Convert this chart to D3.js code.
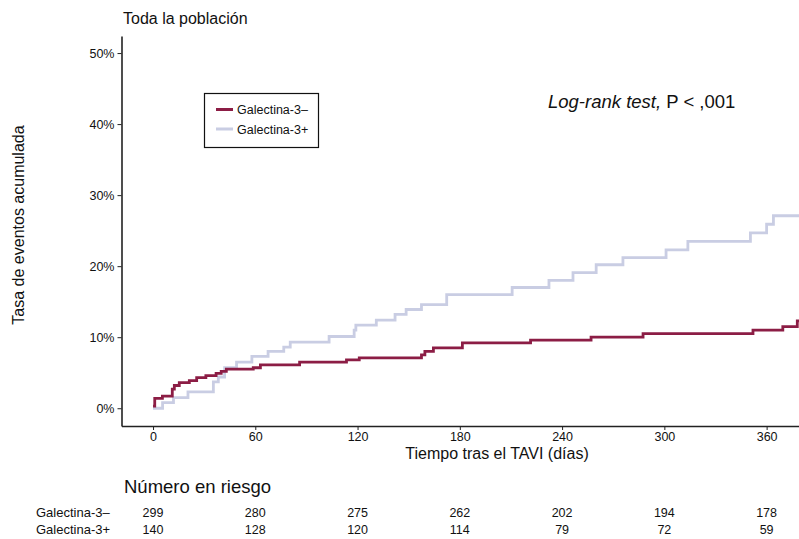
<!DOCTYPE html>
<html>
<head>
<meta charset="utf-8">
<script src="https://cdn.jsdelivr.net/npm/d3@7"></script>
<style>
  body { margin: 0; background: #fff; }
  text { font-family: "Liberation Sans", Arial, sans-serif; fill: #111; }
</style>
</head>
<body>
<div id="chart"></div>
<script>
// cumulative event rate (%), [day, value] at each step
const galNeg = [[0, 0.3], [1, 1.4], [5.5, 1.7], [11.3, 2.7], [12.5, 3.2], [15.4, 3.6], [21.3, 3.9],
  [25.6, 4.3], [31, 4.6], [37, 4.9], [40, 5.2], [43, 5.5], [58.8, 5.7], [63, 6.1], [86, 6.5],
  [113.5, 6.8], [121, 7.1], [157.5, 7.5], [159.5, 8.0], [164.5, 8.5], [181.5, 9.2], [221.5, 9.6],
  [257, 10.0], [287.5, 10.5], [352, 11.0], [369.5, 11.5], [378, 12.3]];
const galPos = [[0, 0], [5.6, 0.8], [12, 1.5], [20.5, 2.3], [35.4, 3.7], [38.3, 4.4], [42, 5.7],
  [49, 6.5], [58, 7.3], [67.5, 8.0], [76.7, 8.6], [80.5, 9.3], [103.3, 10.1], [118, 11.0],
  [119, 11.7], [131, 12.4], [142, 13.2], [148.5, 13.9], [157.5, 14.6], [172.3, 16.0],
  [210.7, 17.0], [232.3, 18.0], [246.4, 19.1], [260, 20.2], [275.7, 21.2], [301, 22.3],
  [313.8, 23.5], [350.5, 24.7], [360, 25.9], [364, 27.1]];
const endDay = 379;

const xTicks = [0, 60, 120, 180, 240, 300, 360];
const yTicks = [0, 10, 20, 30, 40, 50];
const riskNeg = [299, 280, 275, 262, 202, 194, 178];
const riskPos = [140, 128, 120, 114, 79, 72, 59];
const groupNames = ["Galectina-3–", "Galectina-3+"];
const colors = ["#8c1d45", "#c9cde3"];

const W = 799, H = 539;
const svg = d3.select("#chart").append("svg").attr("width", W).attr("height", H);

const x = d3.scaleLinear().domain([-18.5, endDay]).range([121.5, 799]);
const y = d3.scaleLinear().domain([-2.5, 52.4]).range([426, 36]);

// axes
const yAxis = svg.append("g").attr("transform", "translate(121.5,0)")
  .call(d3.axisLeft(y).tickValues(yTicks).tickSize(4).tickSizeOuter(0).tickFormat(d => d + "%"));
const xAxis = svg.append("g").attr("transform", "translate(0,426)")
  .call(d3.axisBottom(x).tickValues(xTicks).tickSize(4).tickSizeOuter(0));
[yAxis, xAxis].forEach(g => {
  g.select(".domain").attr("stroke", "#222").attr("stroke-width", 1.6);
  g.selectAll(".tick line").attr("stroke", "#222").attr("stroke-width", 1);
  g.selectAll(".tick text").attr("font-size", 12.5).attr("fill", "#111")
    .attr("font-family", "Liberation Sans, Arial, sans-serif");
});
xAxis.selectAll(".tick text").attr("y", 6);

// step curves
const line = d3.line().x(d => x(d[0])).y(d => y(d[1])).curve(d3.curveStepAfter);
[galPos, galNeg].forEach((s, i) => {
  const pts = s.concat([[endDay, s[s.length - 1][1]]]);
  svg.append("path").datum(pts).attr("d", line)
    .attr("fill", "none").attr("stroke", i === 0 ? colors[1] : colors[0])
    .attr("stroke-width", 2.8);
});

// titles
svg.append("text").attr("x", 123).attr("y", 24).attr("font-size", 16).text("Toda la población");
svg.append("text").attr("transform", "translate(24,225) rotate(-90)")
  .attr("text-anchor", "middle").attr("font-size", 16).text("Tasa de eventos acumulada");
svg.append("text").attr("x", 497).attr("y", 459).attr("text-anchor", "middle")
  .attr("font-size", 16).text("Tiempo tras el TAVI (días)");

const lr = svg.append("text").attr("x", 548).attr("y", 108).attr("font-size", 18.5);
lr.append("tspan").attr("font-style", "italic").text("Log-rank test,");
lr.append("tspan").text(" P < ,001");

// legend
const leg = svg.append("g");
leg.append("rect").attr("x", 204.5).attr("y", 93.5).attr("width", 114).attr("height", 54)
  .attr("fill", "#fff").attr("stroke", "#111").attr("stroke-width", 1.2);
groupNames.forEach((n, i) => {
  const ly = 109.5 + i * 19.5;
  leg.append("line").attr("x1", 216).attr("x2", 233).attr("y1", ly).attr("y2", ly)
    .attr("stroke", colors[i]).attr("stroke-width", 3);
  leg.append("text").attr("x", 237).attr("y", ly + 4.5).attr("font-size", 12.5).text(n);
});

// risk table
svg.append("text").attr("x", 124).attr("y", 493).attr("font-size", 18.5).text("Número en riesgo");
[riskNeg, riskPos].forEach((row, i) => {
  const ry = 517 + i * 17;
  svg.append("text").attr("x", 36).attr("y", ry).attr("font-size", 13).text(groupNames[i]);
  svg.selectAll(null).data(row).enter().append("text")
    .attr("x", (d, j) => x(xTicks[j])).attr("y", ry)
    .attr("text-anchor", "middle").attr("font-size", 12.5).text(d => d);
});
</script>
</body>
</html>
